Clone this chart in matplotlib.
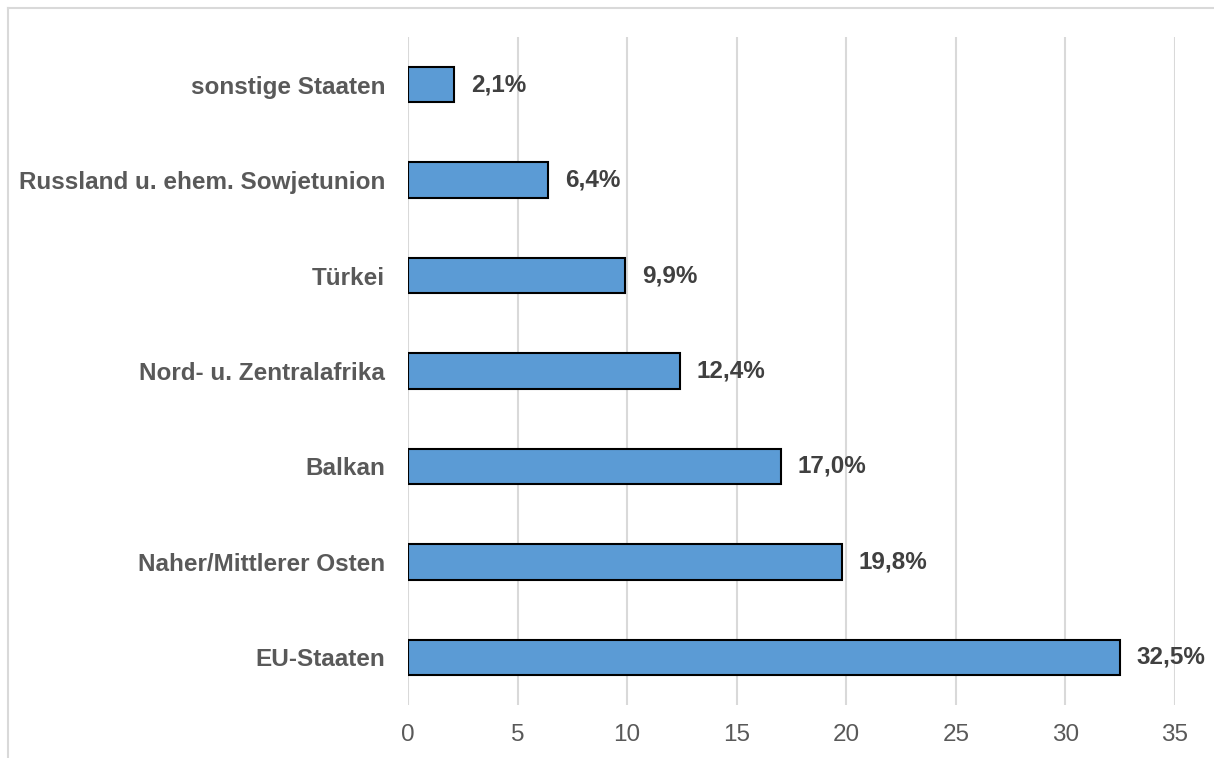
import matplotlib.pyplot as plt
from matplotlib.lines import Line2D

plt.rcParams['font.family'] = ['Liberation Sans', 'DejaVu Sans']

regionen = ["EU-Staaten", "Naher/Mittlerer Osten", "Balkan",
            "Nord- u. Zentralafrika", "Türkei",
            "Russland u. ehem. Sowjetunion", "sonstige Staaten"]
anteile = [32.5, 19.8, 17.0, 12.4, 9.9, 6.4, 2.1]
x_ticks = [0, 5, 10, 15, 20, 25, 30, 35]

fig = plt.figure(figsize=(12.14, 7.58), dpi=100)
ax = fig.add_axes([0.3361, 0.0699, 0.6318, 0.8813])

pos = range(len(regionen))
ax.barh(pos, anteile, height=0.37, color='#5B9BD5',
        edgecolor='black', linewidth=1.5, zorder=3)

for i, v in enumerate(anteile):
    label = f"{v:.1f}%".replace('.', ',')
    ax.annotate(label, (v, i), xytext=(12, 0), textcoords='offset points',
                ha='left', va='center', fontsize=17.5, fontweight='bold',
                color='#404040')

ax.set_xlim(0, 35)
ax.set_ylim(-0.5, len(regionen) - 0.5)
ax.set_xticks(x_ticks)
ax.set_yticks(list(pos))
ax.set_yticklabels(regionen, fontsize=17.5, fontweight='bold', color='#595959')
ax.tick_params(axis='x', labelsize=17.5, labelcolor='#595959', length=0, pad=13.5)
ax.tick_params(axis='y', length=0, pad=16.5)

ax.grid(axis='x', color='#D9D9D9', linewidth=1.5, zorder=0)
for s in ax.spines.values():
    s.set_visible(False)

# rahmen um das diagramm (oben und links sichtbar)
fig.add_artist(Line2D([8 / 1214, 1], [1 - 8 / 758, 1 - 8 / 758],
                      transform=fig.transFigure, color='#D9D9D9', linewidth=1.5))
fig.add_artist(Line2D([8 / 1214, 8 / 1214], [0, 1 - 8 / 758],
                      transform=fig.transFigure, color='#D9D9D9', linewidth=1.5))

fig.savefig('out.png', dpi=100)
